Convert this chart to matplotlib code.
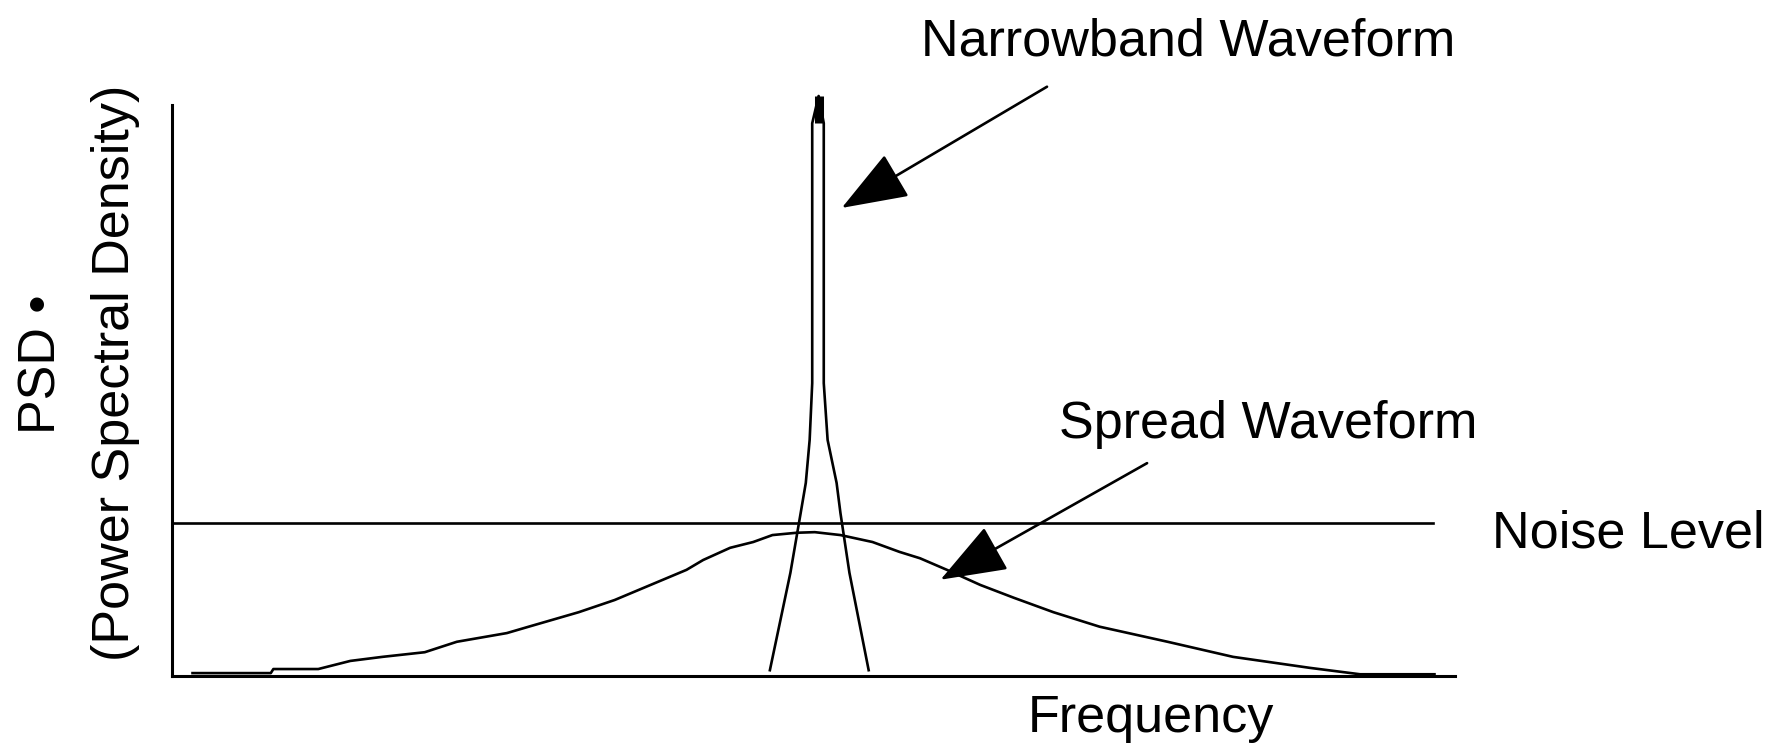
import matplotlib
matplotlib.use("Agg")
import matplotlib.pyplot as plt

W, H = 1779, 745
plt.rcParams['font.family'] = ['Liberation Sans', 'DejaVu Sans']

# spread-spectrum waveform (low, wide)
spread_f = [1.6, 7.7, 7.9, 11.4, 13.9, 16.4, 19.7, 22.2, 26.1, 27.8, 31.7, 34.5,
            37.3, 40.1, 41.4, 43.5, 45.3, 46.8, 48.7, 50.1, 52.1, 54.6, 56.7, 58.3,
            60.4, 63.0, 65.6, 68.7, 72.3, 77.6, 82.7, 88.7, 92.6, 98.4]
spread_psd = [0.5, 0.5, 1.2, 1.2, 2.6, 3.3, 4.1, 5.9, 7.4, 8.5, 11.0, 13.1,
              15.7, 18.3, 20.0, 22.1, 23.1, 24.3, 24.7, 24.8, 24.3, 23.1, 21.4, 20.3,
              18.3, 15.7, 13.5, 11.0, 8.5, 5.9, 3.3, 1.4, 0.3, 0.3]

# narrowband waveform (tall spike)
narrow_f = [46.6, 48.2, 49.0, 49.4, 49.7, 49.9, 49.9, 50.4, 50.8, 50.8, 51.1, 51.8,
            52.1, 52.8, 54.3]
narrow_psd = [1.0, 17.8, 28.1, 33.3, 40.7, 50.5, 95.3, 100.0, 95.3, 50.5, 40.7, 33.3,
              28.1, 17.8, 1.0]

noise_level = 26.4
noise_span = [0, 98.3]


def fpos(x, y):
    # figure pixel (from top-left) -> figure fraction
    return x / W, 1 - y / H


fig = plt.figure(figsize=(W / 100, H / 100), dpi=100)
ax = fig.add_axes([172 / W, (H - 676) / H, (1455 - 172) / W, (676 - 96) / H])
ax.set_xlim(0, 100)
ax.set_ylim(0, 100)

lw = 1.9
ax.plot(spread_f, spread_psd, color='black', lw=lw, clip_on=False)
ax.plot(narrow_f, narrow_psd, color='black', lw=lw, clip_on=False)
# solid tip of the spike
pk = narrow_psd.index(max(narrow_psd))
ax.plot([narrow_f[pk]] * 2, [narrow_psd[pk - 1], narrow_psd[pk]], color='black',
        lw=6.5, solid_capstyle='butt', clip_on=False)
ax.plot(noise_span, [noise_level, noise_level], color='black', lw=lw)

for s in ['top', 'right']:
    ax.spines[s].set_visible(False)
for s in ['left', 'bottom']:
    ax.spines[s].set_linewidth(2.2)
ax.spines['left'].set_bounds(0, 98.4)
ax.set_xticks([])
ax.set_yticks([])

arrow = dict(arrowstyle='-|>,head_length=2.1,head_width=0.78', color='black',
             lw=lw, shrinkA=0, shrinkB=0, mutation_scale=20)
ax.annotate('', xy=(52.2, 80.7), xytext=(68.2, 101.6), arrowprops=arrow,
            annotation_clip=False)
ax.annotate('', xy=(59.9, 16.6), xytext=(76.0, 36.7), arrowprops=arrow,
            annotation_clip=False)

fs = 37.5
fig.text(*fpos(921, 56), 'Narrowband Waveform', fontsize=fs, ha='left', va='baseline')
fig.text(*fpos(1059, 438), 'Spread Waveform', fontsize=fs, ha='left', va='baseline')
fig.text(*fpos(1492, 548), 'Noise Level', fontsize=fs, ha='left', va='baseline')
fig.text(*fpos(1028, 732), 'Frequency', fontsize=fs, ha='left', va='baseline')
fig.text(*fpos(42, 364), 'PSD •', fontsize=fs, rotation=90, ha='center', va='center')
fig.text(*fpos(116, 373), '(Power Spectral Density)', fontsize=fs, rotation=90,
         ha='center', va='center')

fig.savefig('out.png', dpi=100, facecolor='white')
